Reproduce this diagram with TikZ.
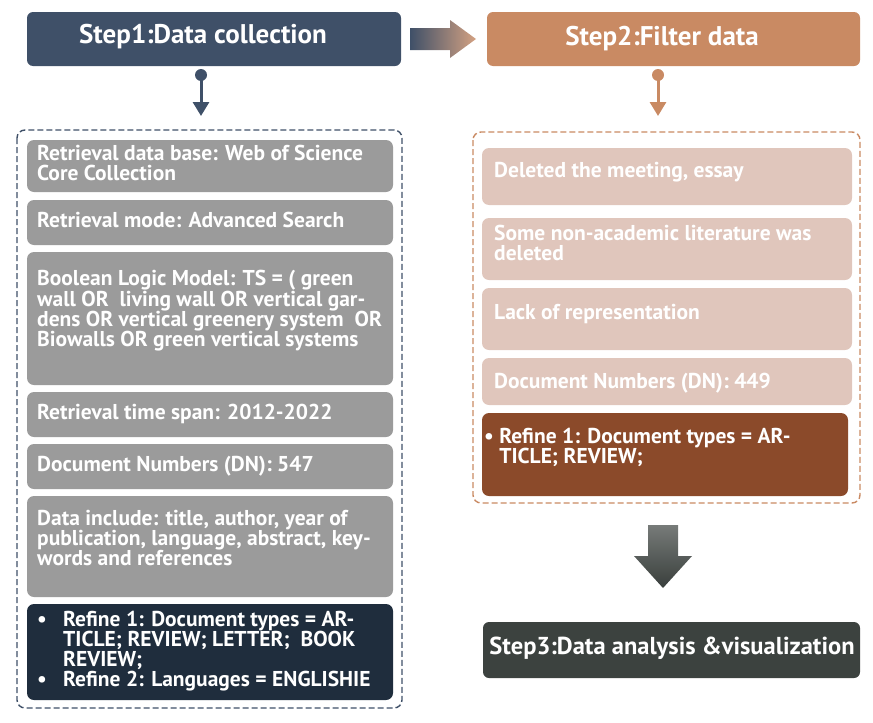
\documentclass[tikz,border=0pt]{standalone}
\usepackage{fontspec}
\setmainfont{PT Sans}
\usetikzlibrary{arrows.meta,shapes.arrows}
\definecolor{sone}{HTML}{3F5068}
\definecolor{stwo}{HTML}{C98A63}
\definecolor{gitem}{HTML}{9B9B9B}
\definecolor{pitem}{HTML}{E0C6BC}
\definecolor{dblue}{HTML}{1F2D3D}
\definecolor{dbrown}{HTML}{8B4A2A}
\definecolor{sthree}{HTML}{3C423F}
\begin{document}
\begin{tikzpicture}[x=1pt,y=-1pt,
 stepbox/.style={rounded corners=6pt,font=\bfseries\fontsize{27}{30}\selectfont,text=white,inner sep=0},
 item/.style={rounded corners=7pt,font=\bfseries\fontsize{21.5}{20}\selectfont,text=white,inner sep=0},
 dash/.style={draw=#1,dash pattern=on 6pt off 3pt,line width=1.4pt,rounded corners=8pt}]
\useasboundingbox (0,0) rectangle (873,723);
% headers
\fill[sone,rounded corners=6pt] (27,12) rectangle (401,66);
\node[stepbox] (s1) at (203,37) {Step1:Data collection};
\fill[stwo,rounded corners=6pt] (487,12) rectangle (860,66);
\node[stepbox] (s2) at (662,39) {Step2:Filter data};
\shade[left color=sone,right color=stwo!80]
 (410,28) -- (450,28) -- (450,20) -- (476,39) -- (450,58) -- (450,50) -- (410,50) -- cycle;
% small connectors
\coordinate (c1) at (201,75); \coordinate (t1) at (201,116);
\fill[sone] (c1) circle (6);
\draw[sone,line width=3pt,-{Triangle[width=16pt,length=14pt]}] (c1) -- (t1);
\coordinate (c2) at (658,75); \coordinate (t2) at (658,116);
\fill[stwo] (c2) circle (6);
\draw[stwo,line width=3pt,-{Triangle[width=16pt,length=14pt]}] (c2) -- (t2);
% dashed frames
\draw[dash=sone] (17,130) rectangle (402,708);
\draw[dash=stwo] (473,132) rectangle (860,503);
% left items
\fill[gitem,rounded corners=7pt] (27,140) rectangle (393,192);
\node[item,anchor=north west,align=left] (l1) at (37,145) {Retrieval data base: Web of Science\\Core Collection};
\fill[gitem,rounded corners=7pt] (27,200) rectangle (393,245);
\node[item,anchor=north west,align=left] (l2) at (37,212) {Retrieval mode: Advanced Search};
\fill[gitem,rounded corners=7pt] (27,252) rectangle (393,385);
\node[item,anchor=north west,align=left] (l3) at (37,270) {Boolean Logic Model: TS = ( green\\wall OR\ \ living wall OR vertical gar-\\dens OR vertical greenery system\ \ OR\\Biowalls OR green vertical systems};
\fill[gitem,rounded corners=7pt] (27,392) rectangle (393,437);
\node[item,anchor=north west,align=left] (l4) at (37,404) {Retrieval time span: 2012-2022};
\fill[gitem,rounded corners=7pt] (27,444) rectangle (393,489);
\node[item,anchor=north west,align=left] (l5) at (37,456) {Document Numbers (DN): 547};
\fill[gitem,rounded corners=7pt] (27,496) rectangle (393,597);
\node[item,anchor=north west,align=left] (l6) at (37,510) {Data include: title, author, year of\\publication, language, abstract, key-\\words and references};
\fill[dblue,rounded corners=7pt] (27,604) rectangle (393,700);
\node[item,anchor=north west,align=left] (l7) at (37,611) {\textbullet\ \ \ Refine 1: Document types = AR-\\\hphantom{\textbullet\ \ \ }TICLE; REVIEW; LETTER;\ \ BOOK\\\hphantom{\textbullet\ \ \ }REVIEW;\\\textbullet\ \ \ Refine 2: Languages = ENGLISHIE};
% right items
\fill[pitem,rounded corners=7pt] (482,148) rectangle (852,205);
\node[item,anchor=north west,align=left] (r1) at (494,162) {Deleted the meeting, essay};
\fill[pitem,rounded corners=7pt] (482,218) rectangle (852,280);
\node[item,anchor=north west,align=left] (r2) at (494,225) {Some non-academic literature was\\deleted};
\fill[pitem,rounded corners=7pt] (482,288) rectangle (852,350);
\node[item,anchor=north west,align=left] (r3) at (494,304) {Lack of representation};
\fill[pitem,rounded corners=7pt] (482,358) rectangle (852,405);
\node[item,anchor=north west,align=left] (r4) at (494,373) {Document Numbers (DN): 449};
\fill[dbrown,rounded corners=7pt] (482,413) rectangle (848,496);
\node[item,anchor=north west,align=left] (r5) at (484,428) {\textbullet\ Refine 1: Document types = AR-\\\hphantom{\textbullet\ }TICLE; REVIEW;};
% big arrow
\shade[top color=sthree!70,bottom color=sthree!95!black]
 (648,525) -- (678,525) -- (678,556) -- (692,556) -- (663,588) -- (634,556) -- (648,556) -- cycle;
% step3
\fill[sthree,rounded corners=6pt] (483,622) rectangle (860,678);
\node[stepbox,font=\bfseries\fontsize{24.5}{28}\selectfont] (s3) at (672,648) {Step3:Data analysis \&visualization};
\end{tikzpicture}
\end{document}
